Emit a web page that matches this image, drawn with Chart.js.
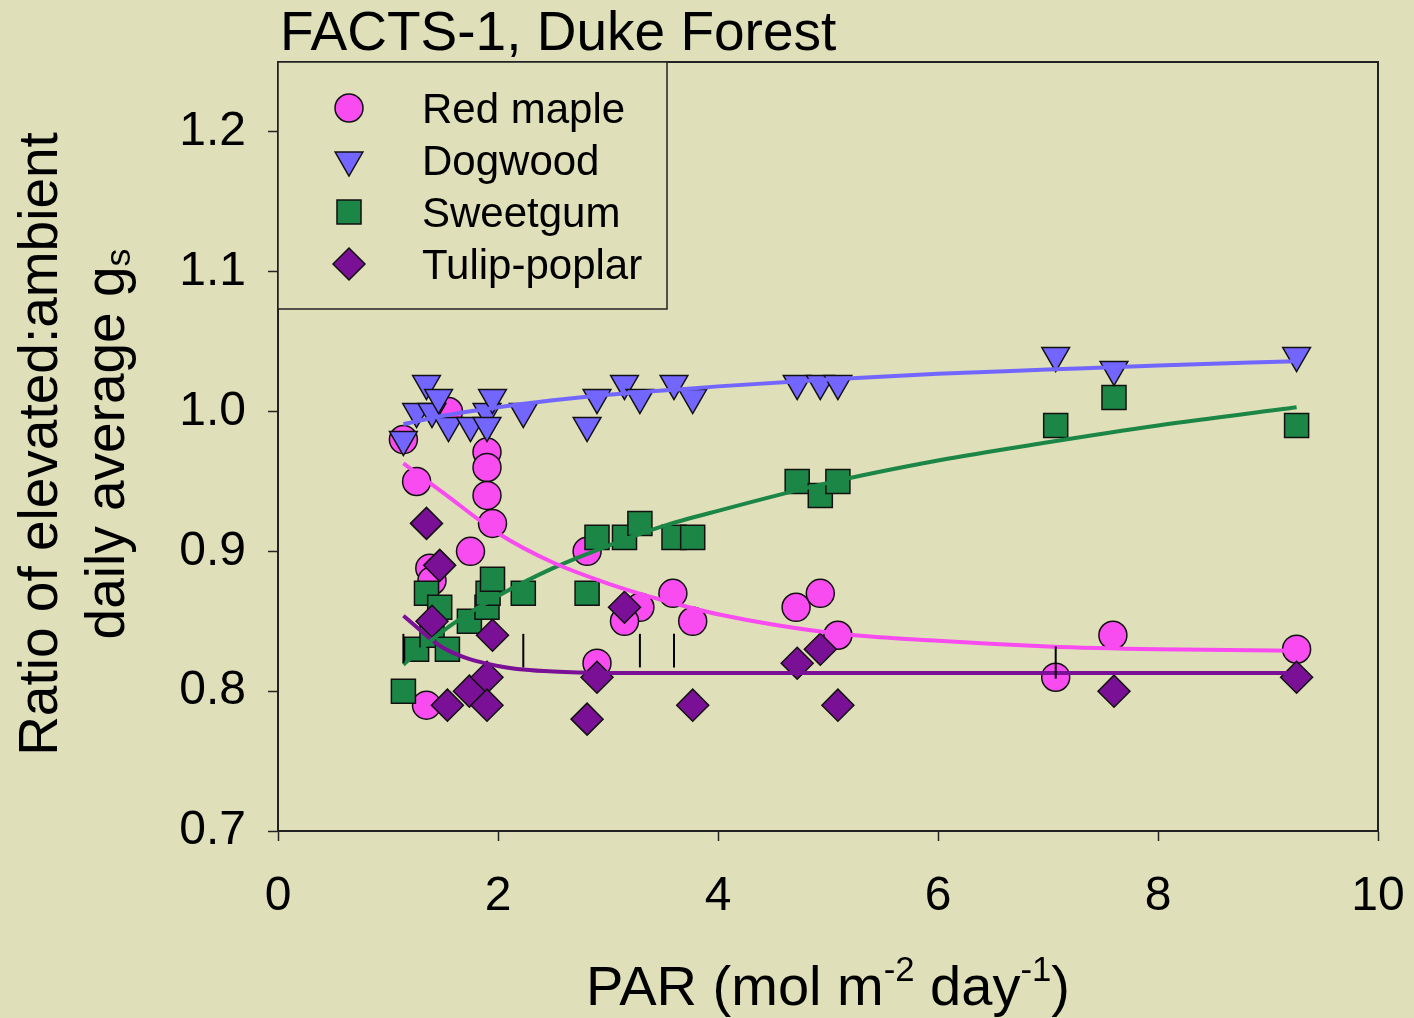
<!DOCTYPE html>
<html>
<head>
<meta charset="utf-8">
<script src="https://cdn.jsdelivr.net/npm/chart.js@4.4.1/dist/chart.umd.min.js"></script>
<style>
    body { margin: 0; background: #dfdfb9; font-family: "Liberation Sans", Arial, sans-serif; }
    #wrap { position: relative; width: 1414px; height: 1018px; overflow: hidden; }
    canvas { position: absolute; left: 0; top: 0; }
    .lbl { position: absolute; color: #000; white-space: nowrap; font-size: 55px; }
    #title { left: 280px; top: 4px; line-height: 55px; }
    #xlab { left: 328px; width: 1000px; top: 958px; line-height: 56px; font-size: 56px; text-align: center; }
    #ylab { left: -328px; top: 377px; width: 800px; height: 134px; line-height: 67px; text-align: center; transform: rotate(-90deg); }
    .sup { font-size: 0.62em; vertical-align: 24px; line-height: 0; }
    .sub { font-size: 0.65em; vertical-align: -6px; line-height: 0; }
</style>
</head>
<body>
<div id="wrap">
    <canvas id="gsChart" width="1414" height="1018"></canvas>
    <div class="lbl" id="title">FACTS-1, Duke Forest</div>
    <div class="lbl" id="ylab">Ratio of elevated:ambient<br>daily average g<span class="sub">s</span></div>
    <div class="lbl" id="xlab">PAR (mol m<span class="sup">-2</span> day<span class="sup">-1</span>)</div>
</div>
<script>
// Dati
const seriesNames = ["Red maple", "Dogwood", "Sweetgum", "Tulip-poplar"];

const redMapleX = [1.14, 1.26, 1.55, 1.38, 1.40, 1.75, 1.35, 1.90, 1.90, 1.90, 1.95, 2.81, 3.29, 3.15, 3.59, 3.77, 2.90, 4.71, 4.93, 5.09, 7.07, 7.59, 9.26];
const redMapleY = [0.98, 0.95, 1.00, 0.888, 0.879, 0.90, 0.79, 0.971, 0.96, 0.94, 0.92, 0.90, 0.86, 0.85, 0.87, 0.85, 0.82, 0.86, 0.87, 0.84, 0.81, 0.84, 0.83];

const dogwoodX = [1.14, 1.26, 1.35, 1.40, 1.46, 1.55, 1.75, 1.90, 1.90, 1.95, 2.23, 2.81, 2.90, 3.15, 3.29, 3.60, 3.77, 4.72, 4.93, 5.09, 7.07, 7.60, 9.26];
const dogwoodY = [0.98, 1.00, 1.02, 1.00, 1.01, 0.99, 0.99, 1.00, 0.99, 1.01, 1.00, 0.99, 1.01, 1.02, 1.01, 1.02, 1.01, 1.02, 1.02, 1.02, 1.04, 1.03, 1.04];

const sweetgumX = [1.14, 1.26, 1.35, 1.40, 1.47, 1.54, 1.74, 1.90, 1.91, 1.95, 2.23, 2.81, 2.90, 3.15, 3.29, 3.60, 3.77, 4.72, 4.93, 5.09, 7.07, 7.60, 9.26];
const sweetgumY = [0.80, 0.83, 0.87, 0.84, 0.86, 0.83, 0.85, 0.86, 0.87, 0.88, 0.87, 0.87, 0.91, 0.91, 0.92, 0.91, 0.91, 0.95, 0.94, 0.95, 0.99, 1.01, 0.99];

const tulipX = [1.35, 1.47, 1.40, 1.54, 1.74, 1.90, 1.90, 1.95, 2.81, 2.90, 3.15, 3.77, 4.72, 4.93, 5.09, 7.60, 9.26];
const tulipY = [0.92, 0.89, 0.85, 0.79, 0.80, 0.81, 0.79, 0.84, 0.78, 0.81, 0.86, 0.79, 0.82, 0.83, 0.79, 0.80, 0.81];

// Curve di regressione
const fitX = [1.14, 1.5, 2, 2.5, 3, 3.5, 4, 5, 6, 7, 8, 9.26];
const redMapleFit = [0.963, 0.942, 0.913, 0.892, 0.877, 0.865, 0.855, 0.842, 0.836, 0.832, 0.830, 0.829];
const dogwoodFit = [0.991, 0.997, 1.003, 1.008, 1.012, 1.015, 1.018, 1.023, 1.027, 1.030, 1.033, 1.036];
const sweetgumFit = [0.819, 0.843, 0.868, 0.888, 0.904, 0.918, 0.929, 0.949, 0.965, 0.978, 0.990, 1.003];
const tulipFit = [0.854, 0.831, 0.818, 0.814, 0.813, 0.813, 0.813, 0.813, 0.813, 0.813, 0.813, 0.813];

// Piccoli segmenti verticali neri
const errX = [1.14, 2.23, 3.29, 3.60, 7.07];
const errLo = [0.820, 0.817, 0.817, 0.817, 0.809];
const errHi = [0.841, 0.841, 0.841, 0.841, 0.832];

const xTicks = [0, 2, 4, 6, 8, 10];
const yTicks = [0.7, 0.8, 0.9, 1.0, 1.1, 1.2];

const BG = "#dfdfb9";
const styles = [
    { color: "#f84cf0", shape: "circle", radius: 14, rotation: 0 },
    { color: "#7366ff", shape: "triangle", radius: 16, rotation: 180 },
    { color: "#1b8646", shape: "rect", radius: 17, rotation: 0 },
    { color: "#7a1096", shape: "rectRot", radius: 16, rotation: 0 }
];

const pts = (xs, ys) => xs.map((x, i) => ({ x: x, y: ys[i] }));

function markerSet(i, xs, ys, order) {
    const s = styles[i];
    return {
        label: seriesNames[i],
        data: pts(xs, ys),
        pointStyle: s.shape,
        pointRadius: s.radius,
        pointRotation: s.rotation,
        pointBackgroundColor: s.color,
        pointBorderColor: "#111",
        pointBorderWidth: 1.5,
        showLine: false,
        order: order
    };
}

function fitSet(i, ys) {
    return {
        label: seriesNames[i] + " fit",
        data: pts(fitX, ys),
        showLine: true,
        borderColor: styles[i].color,
        borderWidth: 4,
        pointRadius: 0,
        cubicInterpolationMode: "monotone",
        order: 1
    };
}

const datasets = [
    fitSet(0, redMapleFit),
    fitSet(1, dogwoodFit),
    fitSet(2, sweetgumFit),
    fitSet(3, tulipFit),
    markerSet(3, tulipX, tulipY, 2),
    markerSet(1, dogwoodX, dogwoodY, 3),
    markerSet(2, sweetgumX, sweetgumY, 4),
    markerSet(0, redMapleX, redMapleY, 5)
];

errX.forEach((x, i) => {
    datasets.push({
        label: "bar" + i,
        data: [{ x: x, y: errLo[i] }, { x: x, y: errHi[i] }],
        showLine: true,
        borderColor: "#000",
        borderWidth: 2,
        pointRadius: 0,
        order: 0
    });
});

// Disegna un simbolo della legenda
function drawMarker(ctx, s, x, y) {
    const r = s.radius;
    ctx.beginPath();
    if (s.shape === "circle") {
        ctx.arc(x, y, r, 0, Math.PI * 2);
    } else if (s.shape === "triangle") {
        const w = r * Math.sin(Math.PI / 3);
        ctx.moveTo(x, y + r);
        ctx.lineTo(x - w, y - r / 2);
        ctx.lineTo(x + w, y - r / 2);
        ctx.closePath();
    } else if (s.shape === "rect") {
        const h = r * Math.SQRT1_2;
        ctx.rect(x - h, y - h, 2 * h, 2 * h);
    } else {
        ctx.moveTo(x - r, y);
        ctx.lineTo(x, y - r);
        ctx.lineTo(x + r, y);
        ctx.lineTo(x, y + r);
        ctx.closePath();
    }
    ctx.fillStyle = s.color;
    ctx.fill();
    ctx.lineWidth = 1.5;
    ctx.strokeStyle = "#111";
    ctx.stroke();
}

const framePlugin = {
    id: "frame",
    afterDatasetsDraw(chart) {
        const ctx = chart.ctx;
        const a = chart.chartArea;
        ctx.save();
        ctx.strokeStyle = "#222";
        ctx.lineWidth = 2;
        ctx.beginPath();
        ctx.moveTo(a.left, a.top);
        ctx.lineTo(a.right, a.top);
        ctx.lineTo(a.right, a.bottom);
        ctx.stroke();

        // legenda
        const bx = a.left, by = a.top, bw = 389, bh = 247;
        ctx.fillStyle = BG;
        ctx.fillRect(bx, by, bw, bh);
        ctx.strokeStyle = "#222";
        ctx.lineWidth = 1.5;
        ctx.strokeRect(bx, by, bw, bh);
        ctx.font = "42px 'Liberation Sans', Arial, sans-serif";
        ctx.textBaseline = "alphabetic";
        ctx.textAlign = "left";
        seriesNames.forEach((name, i) => {
            const cy = by + 46 + i * 52;
            drawMarker(ctx, styles[i], bx + 71, cy);
            ctx.fillStyle = "#000";
            ctx.fillText(name, bx + 144, cy + 15);
        });
        ctx.restore();
    }
};

document.addEventListener("DOMContentLoaded", function () {
    const ctx = document.getElementById("gsChart").getContext("2d");

    new Chart(ctx, {
        type: "scatter",
        data: { datasets: datasets },
        options: {
            responsive: false,
            devicePixelRatio: 1,
            animation: false,
            layout: { padding: { top: 62, left: 0, right: 36, bottom: 107 } },
            plugins: {
                legend: { display: false },
                tooltip: { enabled: false }
            },
            scales: {
                x: {
                    type: "linear",
                    min: 0,
                    max: 10,
                    afterBuildTicks: s => { s.ticks = xTicks.map(v => ({ value: v })); },
                    afterFit: s => { s.height = 80; s.paddingLeft = 0; s.paddingRight = 0; },
                    grid: { drawOnChartArea: false, drawTicks: true, tickLength: 10, tickColor: "#222", tickWidth: 1.5 },
                    border: { display: true, color: "#222", width: 2 },
                    ticks: {
                        color: "#000",
                        padding: 27,
                        maxRotation: 0,
                        font: { family: "'Liberation Sans', Arial, sans-serif", size: 48 },
                        callback: v => String(v)
                    }
                },
                y: {
                    type: "linear",
                    min: 0.7,
                    max: 1.25,
                    afterBuildTicks: s => { s.ticks = yTicks.map(v => ({ value: v })); },
                    afterFit: s => { s.width = 278; s.paddingTop = 0; s.paddingBottom = 0; },
                    grid: { drawOnChartArea: false, drawTicks: true, tickLength: 10, tickColor: "#222", tickWidth: 1.5 },
                    border: { display: true, color: "#222", width: 2 },
                    ticks: {
                        color: "#000",
                        padding: 22,
                        font: { family: "'Liberation Sans', Arial, sans-serif", size: 48 },
                        callback: v => v.toFixed(1)
                    }
                }
            }
        },
        plugins: [framePlugin]
    });
});
</script>
</body>
</html>
